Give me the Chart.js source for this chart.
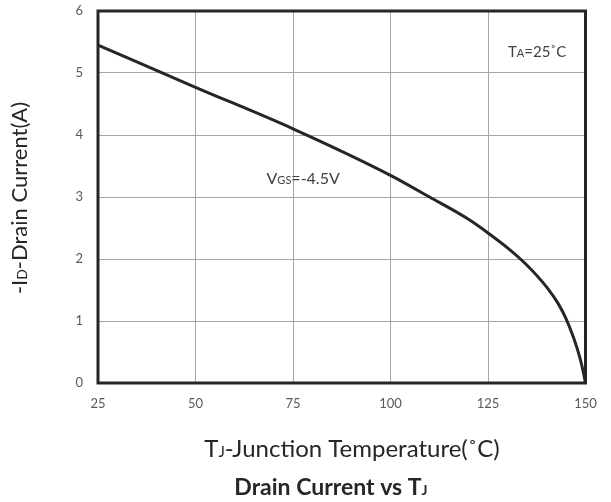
<!DOCTYPE html>
<html>
<head>
<meta charset="utf-8">
<script src="https://cdn.jsdelivr.net/npm/chart.js@4"></script>
<style>
  html, body { margin: 0; padding: 0; background: #ffffff; }
  #wrap { width: 611px; height: 502px; }
</style>
</head>
<body>
<div id="wrap"><canvas id="idChart" width="611" height="502"></canvas></div>
<script>
// Junction temperature (°C) and -ID drain current (A)
const temps   = [25, 50, 75, 100, 110, 120, 125, 130, 135, 140, 143, 145, 147, 148.5, 149.5, 150];
const current = [5.45, 4.77, 4.1, 3.35, 3.0, 2.64, 2.42, 2.18, 1.9, 1.55, 1.28, 1.04, 0.72, 0.42, 0.16, 0];

const xTicks = [25, 50, 75, 100, 125, 150];
const yTicks = [0, 1, 2, 3, 4, 5, 6];

const FONT = "Lato, 'Open Sans', sans-serif";
const TEXT = "#404040";

// draws text pieces with different sizes on one baseline (for the small subscripts)
function drawRich(ctx, parts, x, y, align) {
    let total = 0;
    parts.forEach(p => {
        ctx.font = p.font;
        total += ctx.measureText(p.t).width;
    });
    let cx = align === "center" ? x - total / 2 : (align === "right" ? x - total : x);
    ctx.textAlign = "left";
    parts.forEach(p => {
        ctx.font = p.font;
        ctx.fillText(p.t, cx, y);
        cx += ctx.measureText(p.t).width;
    });
}

const labelsPlugin = {
    id: "labels",
    afterDraw(chart) {
        const ctx = chart.ctx;
        const a = chart.chartArea;
        const xs = chart.scales.x;
        const ys = chart.scales.y;

        ctx.save();
        // Rahmen um die Zeichenfläche
        ctx.strokeStyle = "#262626";
        ctx.lineWidth = 3;
        ctx.strokeRect(a.left, a.top, a.right - a.left, a.bottom - a.top);

        ctx.fillStyle = TEXT;
        ctx.textBaseline = "alphabetic";

        // annotations inside the plot
        drawRich(ctx, [
            { t: "T", font: "15px " + FONT },
            { t: "A", font: "11px " + FONT },
            { t: "=25˚C", font: "15px " + FONT }
        ], xs.getPixelForValue(137.6), ys.getPixelForValue(5.26), "center");

        drawRich(ctx, [
            { t: "V", font: "16px " + FONT },
            { t: "GS", font: "11px " + FONT },
            { t: "=-4.5V", font: "16px " + FONT }
        ], xs.getPixelForValue(77.6), ys.getPixelForValue(3.21), "center");

        // x axis title
        ctx.fillStyle = "#262626";
        drawRich(ctx, [
            { t: "T", font: "24px " + FONT },
            { t: "J", font: "15px " + FONT },
            { t: "-Junction Temperature(˚C)", font: "24px " + FONT }
        ], 352, 457, "center");

        // chart title
        drawRich(ctx, [
            { t: "Drain Current vs T", font: "bold 23px " + FONT },
            { t: "J", font: "bold 14px " + FONT }
        ], 331, 495, "center");

        // y axis title, rotated
        ctx.translate(27, 198);
        ctx.rotate(-Math.PI / 2);
        drawRich(ctx, [
            { t: "-I", font: "22px " + FONT },
            { t: "D", font: "14px " + FONT },
            { t: "-Drain Current(A)", font: "22px " + FONT }
        ], 0, 0, "center");
        ctx.restore();
    }
};

new Chart(document.getElementById("idChart"), {
    type: "line",
    data: {
        datasets: [{
            data: temps.map((t, i) => ({ x: t, y: current[i] })),
            borderColor: "#262626",
            borderWidth: 3,
            pointRadius: 0,
            fill: false,
            cubicInterpolationMode: "monotone"
        }]
    },
    options: {
        responsive: false,
        animation: false,
        layout: { padding: { top: 11, right: 25.5, left: 0, bottom: 0 } },
        plugins: {
            legend: { display: false },
            tooltip: { enabled: false }
        },
        scales: {
            x: {
                type: "linear",
                min: 25,
                max: 150,
                afterBuildTicks: s => { s.ticks = xTicks.map(v => ({ value: v })); },
                afterFit: s => { s.height = 119; s.paddingLeft = 0; s.paddingRight = 0; },
                grid: { color: "#a6a6a6", lineWidth: 1, drawTicks: false },
                border: { display: false },
                ticks: { padding: 13, color: "#595959", font: { size: 13, family: FONT } }
            },
            y: {
                min: 0,
                max: 6,
                afterBuildTicks: s => { s.ticks = yTicks.map(v => ({ value: v })); },
                afterFit: s => { s.width = 98; s.paddingTop = 0; s.paddingBottom = 0; },
                grid: { color: "#a6a6a6", lineWidth: 1, drawTicks: false },
                border: { display: false },
                ticks: { padding: 15, color: "#595959", font: { size: 13, family: FONT } }
            }
        }
    },
    plugins: [labelsPlugin]
});
</script>
</body>
</html>
